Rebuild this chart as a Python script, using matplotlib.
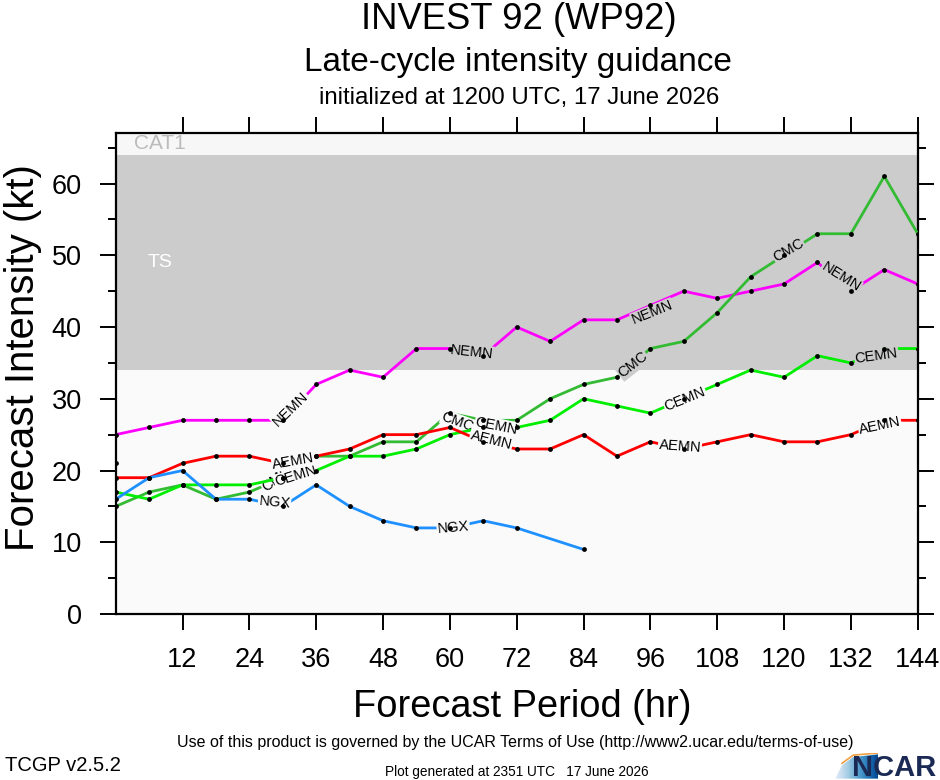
import numpy as np
import matplotlib
matplotlib.use("Agg")
import matplotlib.pyplot as plt
from matplotlib.patches import Polygon

plt.rcParams['font.family'] = ['Liberation Sans', 'DejaVu Sans']

# forecast hours, every 6 h
hours = np.arange(0, 145, 6)
nan = np.nan

nemn = [25, 26, 27, 27, 27, 27, 32, 34, 33, 37, 37, 36, 40, 38, 41, 41, 43, 45, 44, 45, 46, 49, 45, 48, 46]
aemn = [19, 19, 21, 22, 22, 21, 22, 23, 25, 25, 26, 24, 23, 23, 25, 22, 24, 23, 24, 25, 24, 24, 25, 27, 27]
cemn = [17, 16, 18, 18, 18, 19, 20, 22, 22, 23, 25, 26, 26, 27, 30, 29, 28, 30, 32, 34, 33, 36, 35, 37, 37]
cmc = [15, 17, 18, 16, 17, 19, 22, 22, 24, 24, 28, 27, 27, 30, 32, 33, 37, 38, 42, 47, 50, 53, 53, 61, 53]
ngx = [16, 19, 20, 16, 16, 15, 18, 15, 13, 12, 12, 13, 12, nan, 9] + [nan] * 10

# lone point at hour 0 (no line)
lone_hour = [0]
lone_val = [21]

models = ['NEMN', 'CMC', 'CEMN', 'AEMN', 'NGX']
values = {'NEMN': nemn, 'AEMN': aemn, 'CEMN': cemn, 'CMC': cmc, 'NGX': ngx}
colors = {'NEMN': '#ff00ff', 'AEMN': '#ff0000', 'CEMN': '#00ee00',
          'CMC': '#33bb33', 'NGX': '#1e90ff'}

# where the model names sit along each line: (hour, kt, angle)
label_spots = {
    'NEMN': [(31.3, 28.6, 44), (64.0, 36.5, -6), (96.4, 42.0, 22), (130.2, 46.9, -32)],
    'AEMN': [(31.9, 21.3, 10), (67.4, 24.2, -14), (101.3, 23.4, -4), (137.2, 26.2, 12)],
    'CEMN': [(32.3, 19.2, 17), (68.4, 26.2, -11), (102.2, 30.0, 22), (136.6, 35.9, 8)],
    'CMC': [(28.9, 18.9, 38), (61.4, 26.8, -20), (92.9, 34.7, 38), (120.8, 50.7, 30)],
    'NGX': [(28.5, 15.5, -5), (60.6, 12.0, 5)],
}

# intensity bands
bands = [(0, 34, '#fafafa'), (34, 64, '#cccccc'), (64, 67, '#f7f7f7')]

fig = plt.figure(figsize=(9.4, 7.8), dpi=100)
ax = fig.add_axes([0.1231, 0.2128, 0.8532, 0.6163])

for lo, hi, c in bands:
    ax.axhspan(lo, hi, color=c, zorder=0, lw=0)
ax.text(3.3, 65.6, 'CAT1', color='#bbbbbb', fontsize=15, va='center', zorder=1)
ax.text(5.8, 49, 'TS', color='white', fontsize=14, va='center', zorder=1)

for i, m in enumerate(models):
    y = np.array(values[m], dtype=float)
    ok = ~np.isnan(y)
    ax.plot(hours[ok], y[ok], color=colors[m], lw=2.0, zorder=3 + 2 * i)
    ax.scatter(hours[ok], y[ok], s=12, color='black', zorder=30, lw=0)
    for h, v, ang in label_spots[m]:
        bg = '#cccccc' if 34.5 <= v < 64 else '#fafafa'
        ax.text(h, v, m, fontsize=10.5, rotation=ang, ha='center', va='center',
                rotation_mode='anchor', zorder=4 + 2 * i,
                bbox=dict(boxstyle='square,pad=0.05', fc=bg, ec='none'))

ax.scatter(lone_hour, lone_val, s=12, color='black', zorder=30, lw=0)

ax.set_xlim(0, 144)
ax.set_ylim(0, 67)
ax.set_xticks(np.arange(12, 145, 12))
ax.set_yticks(np.arange(0, 61, 10))
ax.set_yticks(np.arange(5, 66, 10), minor=True)
ax.tick_params(axis='both', which='major', direction='out', length=11.5, width=1.4,
               labelsize=19.5, top=True, right=True, pad=12)
ax.tick_params(axis='y', which='minor', direction='out', length=5.8, width=1.4,
               left=True, right=True)
ax.tick_params(axis='y', which='major', pad=13)
for s in ax.spines.values():
    s.set_linewidth(1.6)
# keep the last hour label inside the canvas
ax.get_xticklabels()[-1].set_horizontalalignment('center')

fig.text(0.552, 0.9755, 'INVEST 92 (WP92)', ha='center', va='center', fontsize=26.2)
fig.text(0.551, 0.9205, 'Late-cycle intensity guidance', ha='center', va='center', fontsize=24)
fig.text(0.552, 0.874, 'initialized at 1200 UTC, 17 June 2026', ha='center', va='center', fontsize=17.3)
fig.text(0.024, 0.542, 'Forecast Intensity (kt)', rotation=90, ha='center', va='center', fontsize=29)
fig.text(0.556, 0.0936, 'Forecast Period (hr)', ha='center', va='center', fontsize=27.4)
fig.text(0.548, 0.0487, 'Use of this product is governed by the UCAR Terms of Use (http://www2.ucar.edu/terms-of-use)',
         ha='center', va='center', fontsize=11.5)
fig.text(0.005, 0.019, 'TCGP v2.5.2', ha='left', va='center', fontsize=14.5)
fig.text(0.550, 0.010, 'Plot generated at 2351 UTC   17 June 2026', ha='center', va='center', fontsize=9.8)

# NCAR logo, bottom right
lax = fig.add_axes([833 / 940, 0, 45 / 940, 27 / 780])
lax.set_xlim(0, 1)
lax.set_ylim(0, 1)
lax.axis('off')
grad = np.linspace(0, 1, 100)[None, :]
im = lax.imshow(grad, extent=[0, 1, 0, 1], cmap='Blues', vmin=-0.1, vmax=1.1, aspect='auto')
swoosh = Polygon([(0.05, 0.05), (0.2, 0.55), (0.45, 0.85), (1.0, 0.95), (1.0, 0.05)],
                 closed=True, transform=lax.transData, fc='none', ec='none')
lax.add_patch(swoosh)
im.set_clip_path(swoosh)
lax.plot([0.2, 0.45, 1.0], [0.62, 0.92, 1.0], color='#f0a040', lw=1.2)
fig.text(0.9965, 0.016, 'NCAR', ha='right', va='center', fontsize=21, fontweight='bold',
         color='#1b2a55')

fig.savefig('out.png', dpi=100)
